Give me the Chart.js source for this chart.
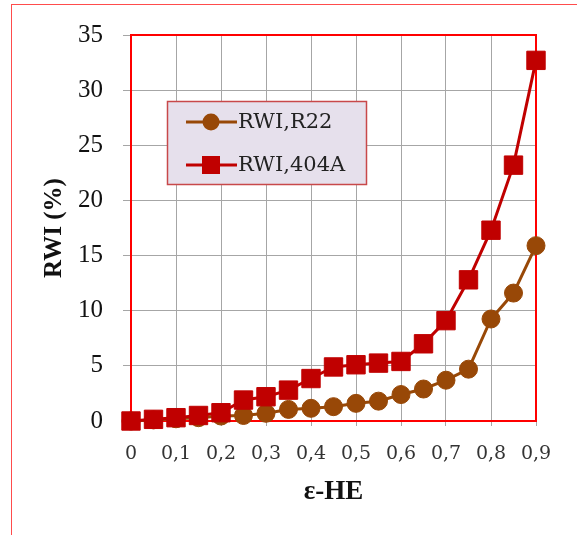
<!DOCTYPE html>
<html>
<head>
<meta charset="utf-8">
<script src="https://cdn.jsdelivr.net/npm/chart.js@4"></script>
<style>
html,body{margin:0;padding:0;background:#fff;}
#wrap{width:577px;height:535px;position:relative;}
</style>
</head>
<body>
<div id="wrap"><canvas id="c" width="577" height="535"></canvas></div>
<script>
const xValues = [0, 0.05, 0.1, 0.15, 0.2, 0.25, 0.3, 0.35, 0.4, 0.45, 0.5, 0.55, 0.6, 0.65, 0.7, 0.75, 0.8, 0.85, 0.9];
const rwiR22 = [0, 0.1, 0.2, 0.3, 0.45, 0.5, 0.7, 1.05, 1.15, 1.3, 1.6, 1.8, 2.4, 2.9, 3.7, 4.7, 9.25, 11.6, 15.9];
const rwi404A = [0, 0.15, 0.3, 0.5, 0.75, 1.9, 2.2, 2.8, 3.85, 4.9, 5.1, 5.25, 5.4, 7.0, 9.1, 12.8, 17.3, 23.2, 32.7];
const seriesNames = ['RWI,R22', 'RWI,404A'];
const xTickValues = [0, 0.1, 0.2, 0.3, 0.4, 0.5, 0.6, 0.7, 0.8, 0.9];
const xTitle = 'ε-HE';
const yTitle = 'RWI (%)';

const colR22 = '#984807';
const col404 = '#c00000';

const toPts = arr => xValues.map((x, i) => ({x: x, y: arr[i]}));

const framePlugin = {
  id: 'frame',
  beforeDraw(chart) {
    const ctx = chart.ctx;
    ctx.save();
    ctx.fillStyle = '#fff';
    ctx.fillRect(0, 0, chart.width, chart.height);
    ctx.strokeStyle = '#ff4c4c';
    ctx.lineWidth = 1;
    ctx.strokeRect(11.5, 4.5, 600, 600);
    ctx.restore();
  },
  beforeDatasetsDraw(chart) {
    const ctx = chart.ctx;
    const a = chart.chartArea;
    ctx.save();
    ctx.strokeStyle = '#ff0000';
    ctx.lineWidth = 2;
    ctx.strokeRect(a.left, a.top, a.right - a.left, a.bottom - a.top);
    ctx.restore();
  },
  afterDraw(chart) {
    const ctx = chart.ctx;
    ctx.save();
    const bx = 167.5, by = 101.5, bw = 199, bh = 83;
    ctx.fillStyle = '#e6e0ec';
    ctx.fillRect(bx, by, bw, bh);
    ctx.strokeStyle = '#c8484a';
    ctx.lineWidth = 1.5;
    ctx.strokeRect(bx, by, bw, bh);
    const rows = [
      {y: 122, color: colR22, shape: 'circle', text: seriesNames[0]},
      {y: 165, color: col404, shape: 'rect', text: seriesNames[1]}
    ];
    rows.forEach(r => {
      ctx.strokeStyle = r.color;
      ctx.lineWidth = 3;
      ctx.beginPath();
      ctx.moveTo(186, r.y);
      ctx.lineTo(237, r.y);
      ctx.stroke();
      ctx.fillStyle = r.color;
      if (r.shape === 'circle') {
        ctx.beginPath();
        ctx.arc(211, r.y, 8.5, 0, Math.PI * 2);
        ctx.fill();
      } else {
        ctx.fillRect(211 - 9, r.y - 9, 18, 18);
      }
      ctx.fillStyle = '#222';
      ctx.font = '21px "DejaVu Serif"';
      ctx.textBaseline = 'middle';
      ctx.textAlign = 'left';
      ctx.fillText(r.text, 238, r.y + 1);
    });
    ctx.restore();
  }
};

new Chart(document.getElementById('c'), {
  type: 'line',
  data: {
    datasets: [
      {
        label: seriesNames[0],
        data: toPts(rwiR22),
        borderColor: colR22,
        backgroundColor: colR22,
        borderWidth: 3,
        pointStyle: 'circle',
        pointRadius: 9,
        pointBorderWidth: 1,
        pointBackgroundColor: colR22,
        pointBorderColor: colR22,
        tension: 0,
        clip: false,
        order: 2
      },
      {
        label: seriesNames[1],
        data: toPts(rwi404A),
        borderColor: col404,
        backgroundColor: col404,
        borderWidth: 3,
        pointStyle: 'rect',
        pointRadius: 13,
        pointBorderWidth: 1,
        pointBackgroundColor: col404,
        pointBorderColor: col404,
        tension: 0,
        clip: false,
        order: 1
      }
    ]
  },
  options: {
    responsive: false,
    animation: false,
    devicePixelRatio: 1,
    layout: {padding: {left: 0, top: 33, right: 41, bottom: 0}},
    plugins: {legend: {display: false}, tooltip: {enabled: false}},
    scales: {
      x: {
        type: 'linear',
        min: 0,
        max: 0.9,
        afterFit(s) { s.height = 114; },
        afterBuildTicks(s) {
          s.ticks = xTickValues.map(v => ({value: v}));
        },
        ticks: {
          padding: 17,
          color: '#333',
          font: {family: '"DejaVu Serif"', size: 19},
          maxRotation: 0,
          autoSkip: false,
          callback: v => (Math.round(v * 10) / 10).toString().replace('.', ',')
        },
        grid: {color: '#a6a6a6', lineWidth: 1, tickLength: 5, drawOnChartArea: true},
        border: {display: false},
        title: {
          display: true,
          text: xTitle,
          color: '#111',
          font: {family: '"Liberation Serif"', size: 27, weight: 'bold'},
          padding: {top: 0, bottom: 27}
        }
      },
      y: {
        type: 'linear',
        min: 0,
        max: 35,
        afterFit(s) { s.width = 131; },
        ticks: {
          stepSize: 5,
          padding: 20,
          color: '#111',
          font: {family: '"Liberation Serif"', size: 25}
        },
        grid: {color: '#a6a6a6', lineWidth: 1, tickLength: 8},
        border: {display: false},
        title: {
          display: true,
          text: yTitle,
          color: '#111',
          font: {family: '"Liberation Serif"', size: 25, weight: 'bold'},
          padding: {top: 40, bottom: 0}
        }
      }
    }
  },
  plugins: [framePlugin]
});
</script>
</body>
</html>
